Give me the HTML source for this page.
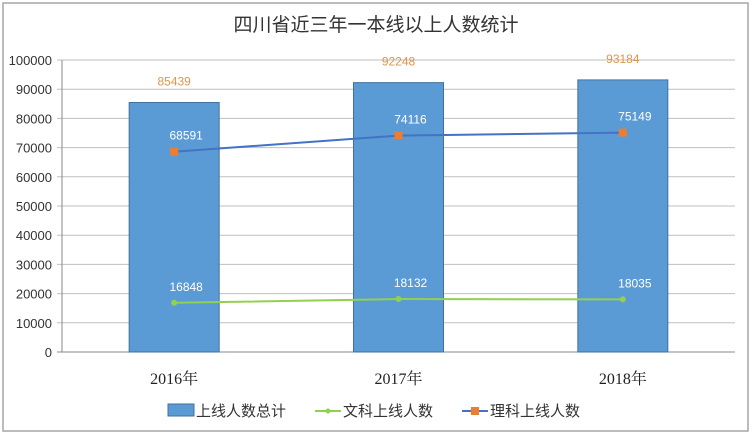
<!DOCTYPE html>
<html><head><meta charset="utf-8">
<style>
html,body{margin:0;padding:0;background:#fff;}
svg{display:block;font-family:"Liberation Sans","Noto Sans CJK SC",sans-serif;}
</style></head>
<body>
<svg id="chart" width="752" height="438" viewBox="0 0 752 438">
<rect x="3" y="3" width="745" height="428" fill="#fff" stroke="#a6a6a6" stroke-width="1.5"/>
<text x="376" y="31" text-anchor="middle" font-size="19" fill="#333">四川省近三年一本线以上人数统计</text>
<g id="grid"></g><g id="bars"></g><g id="lines"></g><g id="labels"></g>
<g>
<rect x="168" y="404" width="26" height="12" fill="#5b9bd5" stroke="#41719c"/>
<text x="196" y="416" font-size="15" fill="#333">上线人数总计</text>
<line x1="315" y1="411" x2="341" y2="411" stroke="#92d050" stroke-width="2"/>
<circle cx="328" cy="411" r="2.5" fill="#92d050"/>
<text x="343" y="416" font-size="15" fill="#333">文科上线人数</text>
<line x1="462" y1="411" x2="488" y2="411" stroke="#4472c4" stroke-width="2"/>
<rect x="471" y="407" width="8" height="8" fill="#ed7d31"/>
<text x="490" y="416" font-size="15" fill="#333">理科上线人数</text>
</g>
</svg>
<script>
const categories=["2016年","2017年","2018年"];
const totals=[85439,92248,93184];
const arts=[16848,18132,18035];
const science=[68591,74116,75149];
const ticks=[0,10000,20000,30000,40000,50000,60000,70000,80000,90000,100000];
const NS="http://www.w3.org/2000/svg";
const x0=62,x1=735,yTop=60,yBot=352,yMax=100000;
const band=(x1-x0)/categories.length;
const xc=i=>x0+band*(i+0.5);
const y=v=>yBot-(v/yMax)*(yBot-yTop);
function mk(tag,attrs,parent,txt){const e=document.createElementNS(NS,tag);for(const k in attrs)e.setAttribute(k,attrs[k]);if(txt!==undefined)e.textContent=txt;document.getElementById(parent).appendChild(e);return e;}
ticks.forEach(t=>{
 const l=mk('line',{x1:x0-5,x2:x1,y1:y(t),y2:y(t),stroke:t===0?'#888':'#bfbfbf','stroke-width':1},'grid');
 
 
 const tx=mk('text',{x:x0-10,y:y(t)+5,'text-anchor':'end','font-size':13,fill:'#333'},'grid',String(t));
 
 
});
const ax=mk('line',{x1:x0,x2:x0,y1:yTop,y2:yBot,stroke:'#888'},'grid');


categories.forEach((c,i)=>{
 const bw=90;
 const r=mk('rect',{x:xc(i)-bw/2,y:y(totals[i]),width:bw,height:yBot-y(totals[i]),fill:'#5b9bd5',stroke:'#41719c','stroke-width':1},'bars');
 
 
 const t=mk('text',{x:xc(i),y:y(totals[i])-17,'text-anchor':'middle','font-size':12,fill:'#e0954a'},'labels',String(totals[i]));
 
 
 const cl=mk('text',{x:xc(i),y:384,'text-anchor':'middle','font-size':16,fill:'#222','font-family':'"Liberation Serif","Noto Serif CJK SC",serif'},'labels',c);
 
 
});
function series(vals,color,marker,name){
 const p=mk('polyline',{points:vals.map((v,i)=>xc(i)+','+y(v)).join(' '),fill:'none',stroke:color,'stroke-width':2},'lines');
 
 
 vals.forEach((v,i)=>{
  let m;
  if(marker==='sq')m=mk('rect',{x:xc(i)-4,y:y(v)-4,width:8,height:8,fill:'#ed7d31'},'lines');
  else m=mk('circle',{cx:xc(i),cy:y(v),r:3,fill:'#92d050'},'lines');
  
  
  const t=mk('text',{x:xc(i)+12,y:y(v)-12,'text-anchor':'middle','font-size':12,fill:'#fff'},'labels',String(v));
  
  
 });
}
series(arts,'#92d050','dot','arts');
series(science,'#4472c4','sq','science');
</script>
</body></html>
